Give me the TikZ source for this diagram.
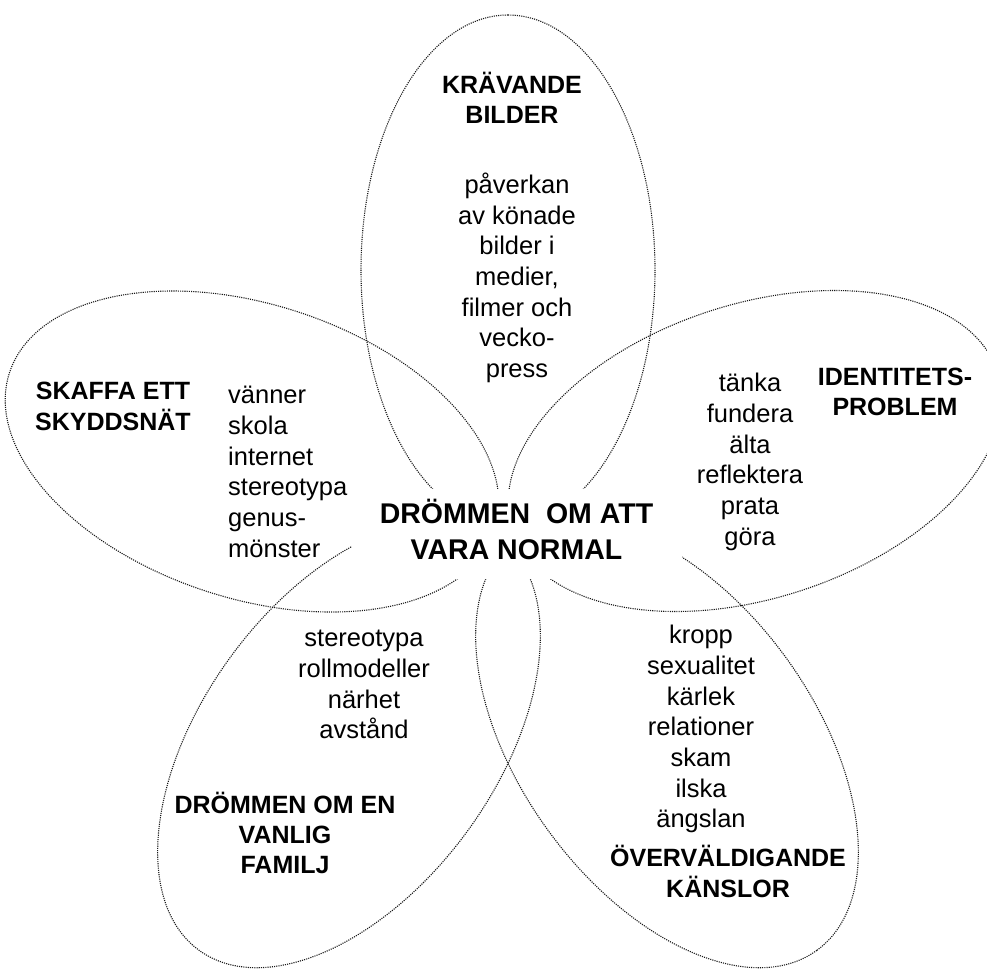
\documentclass[tikz,border=0pt]{standalone}
\usepackage{fontspec}
\setmainfont{Liberation Sans}
\usetikzlibrary{shapes.geometric}
\begin{document}
\begin{tikzpicture}[x=1pt,y=-1pt,
  petal/.style={ellipse, draw=black!90, line width=1.1pt, dash pattern=on 1.1pt off 1.1pt,
                minimum width=510pt, minimum height=294pt, inner sep=0pt},
  listtext/.style={font=\fontsize{25.5}{30.7}\selectfont, align=center, inner sep=0pt},
  headtext/.style={font=\fontsize{25}{30}\selectfont\bfseries, align=center, inner sep=0pt},
  hub/.style={font=\fontsize{28.5}{36}\selectfont\bfseries, align=center, fill=white,
              minimum width=330pt, minimum height=90pt, inner sep=0pt}]
\useasboundingbox (0,0) rectangle (987,970);
% petals
\node[petal, rotate=90]  (ptop)   at (508,270)   {};
\node[petal, rotate=-18] (pleft)  at (252,451.5) {};
\node[petal, rotate=18]  (pright) at (755,451)   {};
\node[petal, rotate=54]  (pbl)    at (349,744)   {};
\node[petal, rotate=-54] (pbr)    at (667,744)   {};
% centre
\node[hub] (hub) at (516.5,534.3) {\strut DRÖMMEN\ \ OM ATT\\VARA NORMAL\strut};
% top petal
\node[headtext] (t1) at (512,102) {\strut KRÄVANDE\\BILDER\strut};
\node[listtext] (l1) at (517,279.4) {\strut påverkan\\av könade\\bilder i\\medier,\\filmer och\\vecko-\\press\strut};
% left petal
\node[headtext] (t2) at (113,409) {\strut SKAFFA ETT\\SKYDDSNÄT\strut};
\node[listtext, align=left, anchor=west] (l2) at (228,474.4) {\strut vänner\\skola\\internet\\stereotypa\\genus-\\mönster\strut};
% right petal
\node[listtext] (l3) at (750,462.2) {\strut tänka\\fundera\\älta\\reflektera\\prata\\göra\strut};
\node[headtext] (t3) at (895,394) {\strut IDENTITETS-\\PROBLEM\strut};
% bottom-left petal
\node[listtext] (l4) at (364,686.6) {\strut stereotypa\\rollmodeller\\närhet\\avstånd\strut};
\node[headtext] (t4) at (285,837.5) {\strut DRÖMMEN OM EN\\VANLIG\\FAMILJ\strut};
% bottom-right petal
\node[listtext] (l5) at (701,729.7) {\strut kropp\\sexualitet\\kärlek\\relationer\\skam\\ilska\\ängslan\strut};
\node[headtext] (t5) at (728,875.7) {\strut ÖVERVÄLDIGANDE\\KÄNSLOR\strut};
\end{tikzpicture}
\end{document}
